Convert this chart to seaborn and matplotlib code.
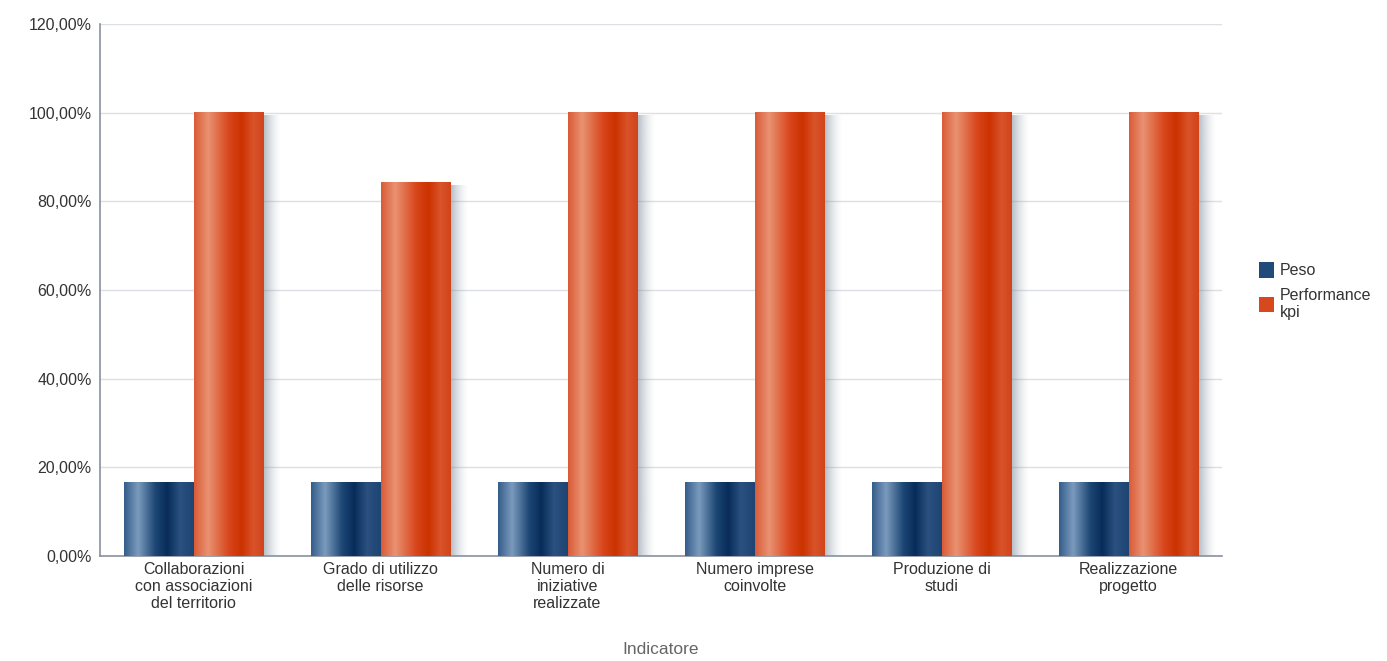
import numpy as np
import pandas as pd
import matplotlib
matplotlib.use('Agg')
import matplotlib.pyplot as plt
import seaborn as sns
from matplotlib.colors import LinearSegmentedColormap, to_rgba
from matplotlib.patches import Patch

sns.set_style("white")
plt.rcParams['font.family'] = ['Liberation Sans', 'DejaVu Sans']

# Data
categories = ['Collaborazioni\ncon associazioni\ndel territorio',
              'Grado di utilizzo\ndelle risorse',
              'Numero di\niniziative\nrealizzate',
              'Numero imprese\ncoinvolte',
              'Produzione di\nstudi',
              'Realizzazione\nprogetto']
peso = [16.67, 16.67, 16.67, 16.67, 16.67, 16.67]
performance = [100.0, 84.2, 100.0, 100.0, 100.0, 100.0]
series = ['Peso', 'Performance\nkpi']

df = pd.DataFrame({
    'Indicatore': categories * 2,
    'Valore': peso + performance,
    'Serie': [series[0]] * len(categories) + [series[1]] * len(categories),
})

blue_cmap = LinearSegmentedColormap.from_list('blue', [
    (0.0, '#345c8a'), (0.2, '#7b9bbd'), (0.45, '#1c4674'),
    (0.62, '#082c5a'), (0.8, '#2a5180'), (1.0, '#1e4474')])
orange_cmap = LinearSegmentedColormap.from_list('orange', [
    (0.0, '#d95b37'), (0.2, '#e99272'), (0.5, '#d8461c'),
    (0.68, '#cb3200'), (0.85, '#d9532a'), (1.0, '#d2441a')])
solid = {series[0]: '#1f4a7a', series[1]: '#d8481e'}
cmaps = {series[0]: blue_cmap, series[1]: orange_cmap}

fig = plt.figure(figsize=(13.87, 6.61), dpi=100)
ax = fig.add_axes([100 / 1387, 105 / 661, 1122 / 1387, 532 / 661])

sns.barplot(data=df, x='Indicatore', y='Valore', hue='Serie', palette=solid,
            width=0.747, ax=ax, legend=False, errorbar=None, zorder=3)

grad = np.linspace(0, 1, 256).reshape(1, -1)
shadow = np.zeros((1, 64, 4))
shadow[..., :3] = to_rgba('#7d8a9a')[:3]
shadow[..., 3] = 0.6 * np.linspace(1, 0, 64) ** 1.6

n = len(categories)
for i, p in enumerate(ax.patches[:2 * n]):
    s = series[0] if i < n else series[1]
    x0, w, h = p.get_x(), p.get_width(), p.get_height()
    p.set_facecolor('none')
    p.set_edgecolor('none')
    ax.imshow(grad, cmap=cmaps[s], extent=(x0, x0 + w, 0, h), aspect='auto',
              zorder=4, interpolation='bicubic')
    if s == series[1]:
        ax.imshow(shadow, extent=(x0 + w, x0 + w + 0.1, 0, h - 0.6), aspect='auto',
                  zorder=2, interpolation='bicubic')

ax.set_xlim(-0.5, n - 0.5)
ax.set_ylim(0, 120)
ax.set_yticks(np.arange(0, 121, 20))
ax.set_yticklabels([f'{v:.2f}%'.replace('.', ',') for v in np.arange(0, 121, 20)])
ax.yaxis.grid(True, color='#dcdfe4', linewidth=1, zorder=0)
ax.set_axisbelow(True)
for sp in ['top', 'right']:
    ax.spines[sp].set_visible(False)
for sp in ['left', 'bottom']:
    ax.spines[sp].set_color('#8a90a0')
    ax.spines[sp].set_linewidth(1.2)
ax.tick_params(axis='both', length=0, labelsize=11.5, colors='#333333', pad=6)
ax.tick_params(axis='x', pad=4)
ax.set_ylabel('')
ax.set_xlabel('Indicatore', fontsize=12.5, color='#666666', labelpad=22)

handles = [Patch(facecolor=solid[s], edgecolor='none') for s in series]
fig.legend(handles, series, loc='upper left', bbox_to_anchor=(1245 / 1387, 0.625),
           frameon=False, fontsize=11.5, handlelength=0.9, handleheight=1.1,
           handletextpad=0.4, labelspacing=0.6, labelcolor='#333333')

plt.savefig('out.png', dpi=100)
plt.close()
